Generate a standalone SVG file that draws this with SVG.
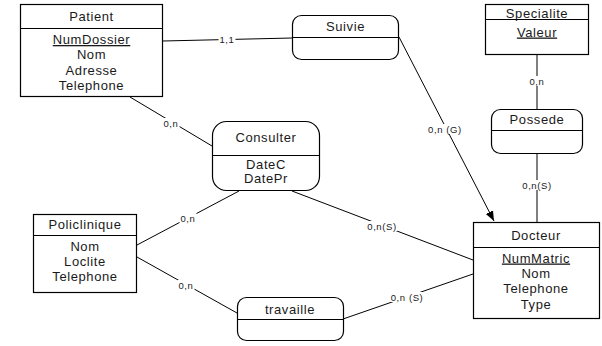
<svg xmlns="http://www.w3.org/2000/svg" width="602" height="346" viewBox="0 0 602 346">
<defs>
<style>
.box{fill:#fff;stroke:#000;stroke-width:1.2}
.div{stroke:#000;stroke-width:1.2}
.t{font-family:"Liberation Sans",Arial,sans-serif;font-size:13px;letter-spacing:0.6px;text-anchor:middle;fill:#1a1a1a}
.u{text-decoration:underline}
.c{stroke:#000;stroke-width:1;fill:none}
.bg{fill:#fff}
.l{font-family:"Liberation Sans",Arial,sans-serif;font-size:9.5px;letter-spacing:0.6px;text-anchor:middle;fill:#1a1a1a}
</style>
<marker id="arr" viewBox="0 0 10 10" refX="10" refY="5" markerWidth="10" markerHeight="10" markerUnits="userSpaceOnUse" orient="auto">
<path d="M0,1 L10,5 L0,9 z" fill="#000"/>
</marker>
</defs>
<rect width="602" height="346" fill="#fff"/>
<g id="connectors">
<line class="c" x1="163" y1="41" x2="292" y2="38"/>
<line class="c" x1="130" y1="97" x2="212" y2="146"/>
<line class="c" x1="399" y1="37" x2="494" y2="221" marker-end="url(#arr)"/>
<line class="c" x1="537" y1="55" x2="537" y2="109"/>
<line class="c" x1="537" y1="153" x2="537" y2="222"/>
<line class="c" x1="292" y1="191" x2="473" y2="260"/>
<line class="c" x1="137" y1="245" x2="239" y2="191"/>
<line class="c" x1="137" y1="257" x2="237" y2="313"/>
<line class="c" x1="343" y1="319" x2="473" y2="274"/>
<rect class="bg" x="218.5" y="34" width="17" height="10"/>
<text class="l" x="227" y="42.5">1,1</text>
<rect class="bg" x="162.5" y="118" width="17" height="10"/>
<text class="l" x="171" y="126.5">0,n</text>
<rect class="bg" x="528.5" y="76" width="17" height="10"/>
<text class="l" x="537" y="84.5">0,n</text>
<rect class="bg" x="521.5" y="180" width="31" height="10"/>
<text class="l" x="537" y="188.5">0,n(S)</text>
<rect class="bg" x="427.5" y="124" width="35" height="10"/>
<text class="l" x="445" y="132.5">0,n (G)</text>
<rect class="bg" x="366.5" y="221" width="31" height="10"/>
<text class="l" x="382" y="229.5">0,n(S)</text>
<rect class="bg" x="179.5" y="213" width="17" height="10"/>
<text class="l" x="188" y="221.5">0,n</text>
<rect class="bg" x="177.5" y="280" width="17" height="10"/>
<text class="l" x="186" y="288.5">0,n</text>
<rect class="bg" x="390" y="292" width="34" height="10"/>
<text class="l" x="407" y="300.5">0,n (S)</text>
</g>
<g id="Patient">
<rect class="box" x="20.5" y="4.5" width="142" height="92"/>
<line class="div" x1="20.5" y1="28.5" x2="162.5" y2="28.5"/>
<text class="t" x="91.5" y="21">Patient</text>
<text class="t u" x="91.5" y="44">NumDossier</text>
<text class="t" x="91.5" y="59">Nom</text>
<text class="t" x="91.5" y="75">Adresse</text>
<text class="t" x="91.5" y="90">Telephone</text>
</g>
<g id="Suivie">
<rect class="box" x="292.5" y="15.5" width="106" height="44" rx="9"/>
<line class="div" x1="292.5" y1="37.5" x2="398.5" y2="37.5"/>
<text class="t" x="345.5" y="31">Suivie</text>
</g>
<g id="Specialite">
<rect class="box" x="485.5" y="4.5" width="103" height="50"/>
<line class="div" x1="485.5" y1="19.5" x2="588.5" y2="19.5"/>
<text class="t" x="537" y="17.5">Specialite</text>
<text class="t u" x="537" y="36.5">Valeur</text>
</g>
<g id="Possede">
<rect class="box" x="491.5" y="109.5" width="91" height="44" rx="9"/>
<line class="div" x1="491.5" y1="130.5" x2="582.5" y2="130.5"/>
<text class="t" x="537" y="124">Possede</text>
</g>
<g id="Consulter">
<rect class="box" x="212.5" y="121.5" width="107" height="69" rx="14"/>
<line class="div" x1="212.5" y1="155.5" x2="319.5" y2="155.5"/>
<text class="t" x="266" y="142">Consulter</text>
<text class="t" x="266" y="168.5">DateC</text>
<text class="t" x="266" y="183">DatePr</text>
</g>
<g id="Policlinique">
<rect class="box" x="33.5" y="214.5" width="103" height="78"/>
<line class="div" x1="33.5" y1="235.5" x2="136.5" y2="235.5"/>
<text class="t" x="85" y="228.5">Policlinique</text>
<text class="t" x="85" y="250.5">Nom</text>
<text class="t" x="85" y="265.5">Loclite</text>
<text class="t" x="85" y="281">Telephone</text>
</g>
<g id="travaille">
<rect class="box" x="237.5" y="297.5" width="106" height="43" rx="9"/>
<line class="div" x1="237.5" y1="319.5" x2="343.5" y2="319.5"/>
<text class="t" x="290" y="313.5">travaille</text>
</g>
<g id="Docteur">
<rect class="box" x="473.5" y="222.5" width="126" height="96"/>
<line class="div" x1="473.5" y1="247.5" x2="599.5" y2="247.5"/>
<text class="t" x="536" y="239.5">Docteur</text>
<text class="t u" x="536" y="262.5">NumMatric</text>
<text class="t" x="536" y="277.5">Nom</text>
<text class="t" x="536" y="292.5">Telephone</text>
<text class="t" x="536" y="308.5">Type</text>
</g>
</svg>
